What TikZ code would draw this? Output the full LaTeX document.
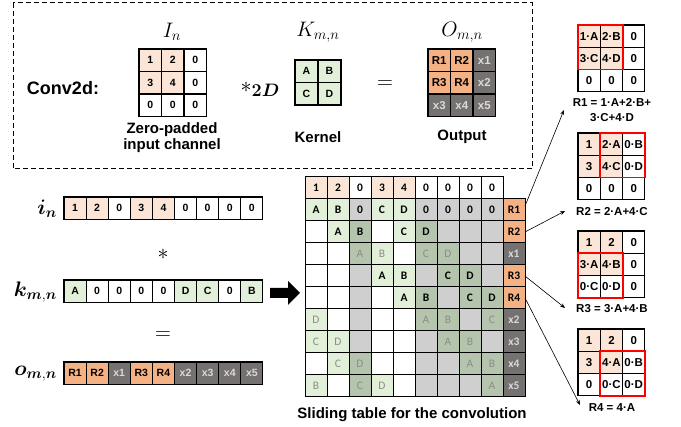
\RequirePackage{fix-cm}
\documentclass[tikz,border=0pt]{standalone}
\usepackage{amsmath}
\usepackage{bm}
\usepackage{fontspec}
\newfontfamily\arial{Liberation Sans}
\newfontfamily\calib{Carlito}
\usetikzlibrary{arrows.meta}
\definecolor{pk}{HTML}{FBE5D6}
\definecolor{lg}{HTML}{E2F0D9}
\definecolor{dg}{HTML}{B5C4AC}
\definecolor{gr}{HTML}{CFCFCF}
\definecolor{orr}{HTML}{F4B183}
\definecolor{dk}{HTML}{767171}
\definecolor{ltx}{HTML}{D9D9D9}
\definecolor{fadetxt}{HTML}{8C8C8C}
\newcommand\cellgrid[8]{%
  \foreach \s/\t [count=\c from 0] in {#8} {%
    \pgfmathtruncatemacro\rgrow{\c/#6}%
    \pgfmathtruncatemacro\rgcol{mod(\c,#6)}%
    \node[#7,fill=\s,minimum width=#4pt,minimum height=#5pt] (#1-\rgrow-\rgcol)
      at ({#2+#4*\rgcol+#4/2},{#3+#5*\rgrow+#5/2}) {\t};
  }%
}
\tikzset{
  base/.style={draw=black, line width=1.1pt, inner sep=0pt, outer sep=0pt, anchor=center},
  sc/.style={base, font=\arial\bfseries\fontsize{10.5}{12}\selectfont},
  gc/.style={base, font=\arial\bfseries\fontsize{11.5}{13}\selectfont},
  tc/.style={base, line width=1pt, font=\calib\bfseries\fontsize{11.5}{13}\selectfont},
  tcx/.style={base, line width=1pt, text=fadetxt, font=\calib\fontsize{11.5}{13}\selectfont},
  lbl/.style={font=\arial\bfseries\fontsize{15}{17}\selectfont, inner sep=0pt, align=center},
  eq/.style={font=\arial\bfseries\fontsize{11.5}{15}\selectfont, inner sep=0pt, align=center},
  mlbl/.style={font=\fontsize{21}{24}\selectfont, inner sep=0pt},
  redbox/.style={draw=red, line width=1.8pt},
  thinarrow/.style={-{Stealth[length=5pt,width=4pt]}, line width=0.6pt}
}
\begin{document}
\begin{tikzpicture}[x=1pt,y=-1pt]
\useasboundingbox (0,0) rectangle (681,427);

% ---------- top dashed box ----------
\draw[line width=1pt, dash pattern=on 5pt off 3pt] (13,3) rectangle (532,169);
\node[font=\arial\bfseries\fontsize{18}{20}\selectfont, inner sep=0pt] (conv) at (63,88) {Conv2d:};

\cellgrid{ig}{139}{49}{22.5}{22.5}{3}{sc}{pk/1,pk/2,white/0,pk/3,pk/4,white/0,white/0,white/0,white/0}
\cellgrid{kg}{295}{60}{23}{22.5}{2}{sc}{lg/A,lg/B,lg/C,lg/D}
\cellgrid{og}{428}{49}{22.5}{22.5}{3}{gc}{orr/R1,orr/R2,dk/{\color{ltx}x1},orr/R3,orr/R4,dk/{\color{ltx}x2},dk/{\color{ltx}x3},dk/{\color{ltx}x4},dk/{\color{ltx}x5}}

\node[mlbl] (Il) at (172,32) {$I_n$};
\node[mlbl] (Kl) at (318,32) {$K_{m,n}$};
\node[mlbl] (Ol) at (462,32) {$O_{m,n}$};
\node[mlbl, font=\fontsize{22}{24}\selectfont] (conv2d) at (260,89) {$*$\raisebox{-4pt}{\fontsize{18}{20}\selectfont$\bm{2D}$}};
\node[mlbl, font=\fontsize{22}{24}\selectfont] (eqtop) at (385,85) {$=$};
\node[lbl] (zp) at (172,138) {Zero-padded\\[-1pt]input channel};
\node[lbl] (kern) at (318,137) {Kernel};
\node[lbl] (outp) at (462,137) {Output};

% ---------- strips ----------
\cellgrid{is}{64}{197}{22.1}{22.5}{9}{sc}{pk/1,pk/2,white/0,pk/3,pk/4,white/0,white/0,white/0,white/0}
\cellgrid{ks}{64}{280}{22.1}{22.5}{9}{sc}{lg/A,white/0,white/0,white/0,white/0,lg/D,lg/C,white/0,lg/B}
\cellgrid{os}{64}{362}{22.1}{22.5}{9}{sc}{orr/R1,orr/R2,dk/{\color{ltx}x1},orr/R3,orr/R4,dk/{\color{ltx}x2},dk/{\color{ltx}x3},dk/{\color{ltx}x4},dk/{\color{ltx}x5}}

\node[mlbl, anchor=east] (lbli) at (57,209) {$\bm{i}_{\bm{n}}$};
\node[mlbl, anchor=east] (lblk) at (57,292) {$\bm{k}_{\bm{m},\bm{n}}$};
\node[mlbl, anchor=east] (lblo) at (57,374) {$\bm{o}_{\bm{m},\bm{n}}$};
\node[mlbl, font=\fontsize{22}{24}\selectfont] (star) at (163,254) {$*$};
\node[mlbl, font=\fontsize{22}{24}\selectfont] (eqlow) at (163,336) {$=$};

% big arrow
\fill[black] (270,288) -- (288,288) -- (288,281) -- (300,293) -- (288,305) -- (288,298) -- (270,298) -- cycle;

% ---------- sliding table ----------
\cellgrid{t0}{305}{177}{22}{22}{9}{tc}{pk/1,pk/2,white/0,pk/3,pk/4,white/0,white/0,white/0,white/0}
\cellgrid{t1}{305}{199}{22}{22}{9}{tc}{lg/A,lg/B,gr/0,lg/C,lg/D,gr/0,gr/0,gr/0,gr/0}
\cellgrid{t2}{305}{221}{22}{22}{9}{tc}{white/{},lg/A,dg/B,white/{},lg/C,dg/D,gr/{},gr/{},gr/{}}
\cellgrid{t3}{305}{243}{22}{22}{9}{tcx}{white/{},white/{},dg/A,lg/B,white/{},dg/C,dg/D,gr/{},gr/{}}
\cellgrid{t4}{305}{265}{22}{22}{9}{tc}{white/{},white/{},gr/{},lg/A,lg/B,gr/{},dg/C,dg/D,gr/{}}
\cellgrid{t5}{305}{287}{22}{22}{9}{tc}{white/{},white/{},gr/{},white/{},lg/A,dg/B,gr/{},dg/C,dg/D}
\cellgrid{t6}{305}{309}{22}{22}{9}{tcx}{lg/D,white/{},gr/{},white/{},white/{},dg/A,dg/B,gr/{},dg/C}
\cellgrid{t7}{305}{331}{22}{22}{9}{tcx}{lg/C,lg/D,gr/{},white/{},white/{},gr/{},dg/A,dg/B,gr/{}}
\cellgrid{t8}{305}{353}{22}{22}{9}{tcx}{white/{},lg/C,dg/D,white/{},white/{},gr/{},gr/{},dg/A,dg/B}
\cellgrid{t9}{305}{375}{22}{22}{9}{tcx}{lg/B,white/{},dg/C,lg/D,white/{},gr/{},gr/{},gr/{},dg/A}

\foreach \r/\f/\t in {1/orr/R1,2/orr/R2,3/dk/{\color{ltx}x1},4/orr/R3,5/orr/R4,6/dk/{\color{ltx}x2},7/dk/{\color{ltx}x3},8/dk/{\color{ltx}x4},9/dk/{\color{ltx}x5}}
  \node[tc, fill=\f, minimum width=22pt, minimum height=22pt] (out\r) at (514,{188+22*\r}) {\t};

\node[lbl] (slid) at (412,415) {Sliding table for the convolution};

% ---------- right grids ----------
\cellgrid{g1}{578}{25}{22.3}{22.3}{3}{gc}{pk/1·A,pk/2·B,white/0,pk/3·C,pk/4·D,white/0,white/0,white/0,white/0}
\cellgrid{g2}{578}{133}{22.3}{22.3}{3}{gc}{pk/1,pk/2·A,white/0·B,pk/3,pk/4·C,white/0·D,white/0,white/0,white/0}
\cellgrid{g3}{578}{231}{22.3}{22.3}{3}{gc}{pk/1,pk/2,white/0,pk/3·A,pk/4·B,white/0,white/0·C,white/0·D,white/0}
\cellgrid{g4}{578}{329}{22.3}{22.3}{3}{gc}{pk/1,pk/2,white/0,pk/3,pk/4·A,white/0·B,white/0,white/0·C,white/0·D}

\draw[redbox] (g1-0-0.north west) rectangle (g1-1-1.south east);
\draw[redbox] (g2-0-1.north west) rectangle (g2-1-2.south east);
\draw[redbox] (g3-1-0.north west) rectangle (g3-2-1.south east);
\draw[redbox] (g4-1-1.north west) rectangle (g4-2-2.south east);

\node[eq] (e1) at (612,110) {R1 = 1·A+2·B+\\3·C+4·D};
\node[eq] (e2) at (612,212) {R2 = 2·A+4·C};
\node[eq] (e3) at (612,309) {R3 = 3·A+4·B};
\node[eq] (e4) at (612,408) {R4 = 4·A};

\coordinate (a1) at (564,110);
\coordinate (a2) at (565,211);
\coordinate (a3) at (565,308);
\coordinate (a4) at (580,405);
\draw[thinarrow] ([yshift=4pt]out1.east) -- (a1);
\draw[thinarrow] (out2.east) -- (a2);
\draw[thinarrow] (out4.east) -- (a3);
\draw[thinarrow] (out5.east) -- (a4);
\end{tikzpicture}
\end{document}
